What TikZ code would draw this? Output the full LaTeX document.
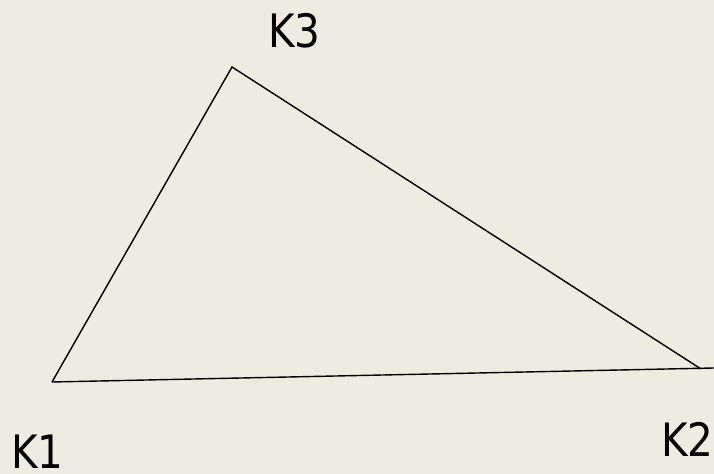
\documentclass[tikz,border=0pt]{standalone}
\usepackage{fontspec}
\setmainfont{DejaVu Sans}[FakeStretch=0.88]
\definecolor{bg}{HTML}{EEECE1}
\begin{document}
\begin{tikzpicture}[x=1bp,y=1bp,
  edge/.style={draw=black,line width=1.4bp},
  lbl/.style={inner sep=0pt,text depth=0pt,anchor=base west,font=\fontsize{46bp}{50bp}\selectfont}]
\fill[bg] (0,0) rectangle (714,474);
\useasboundingbox (0,0) rectangle (714,474);
\coordinate (k1) at (52,92);
\coordinate (k2) at (701,105);
\coordinate (k3) at (232,407);
\coordinate (e) at (714,106);
\draw[edge,line join=miter] (k1) -- (k3) -- (k2);
\draw[edge] (k1) -- (e);
\node[lbl] (l1) at (11,5) {K1};
\node[lbl] (l2) at (661,17) {K2};
\node[lbl] (l3) at (268,426) {K3};
\end{tikzpicture}
\end{document}
